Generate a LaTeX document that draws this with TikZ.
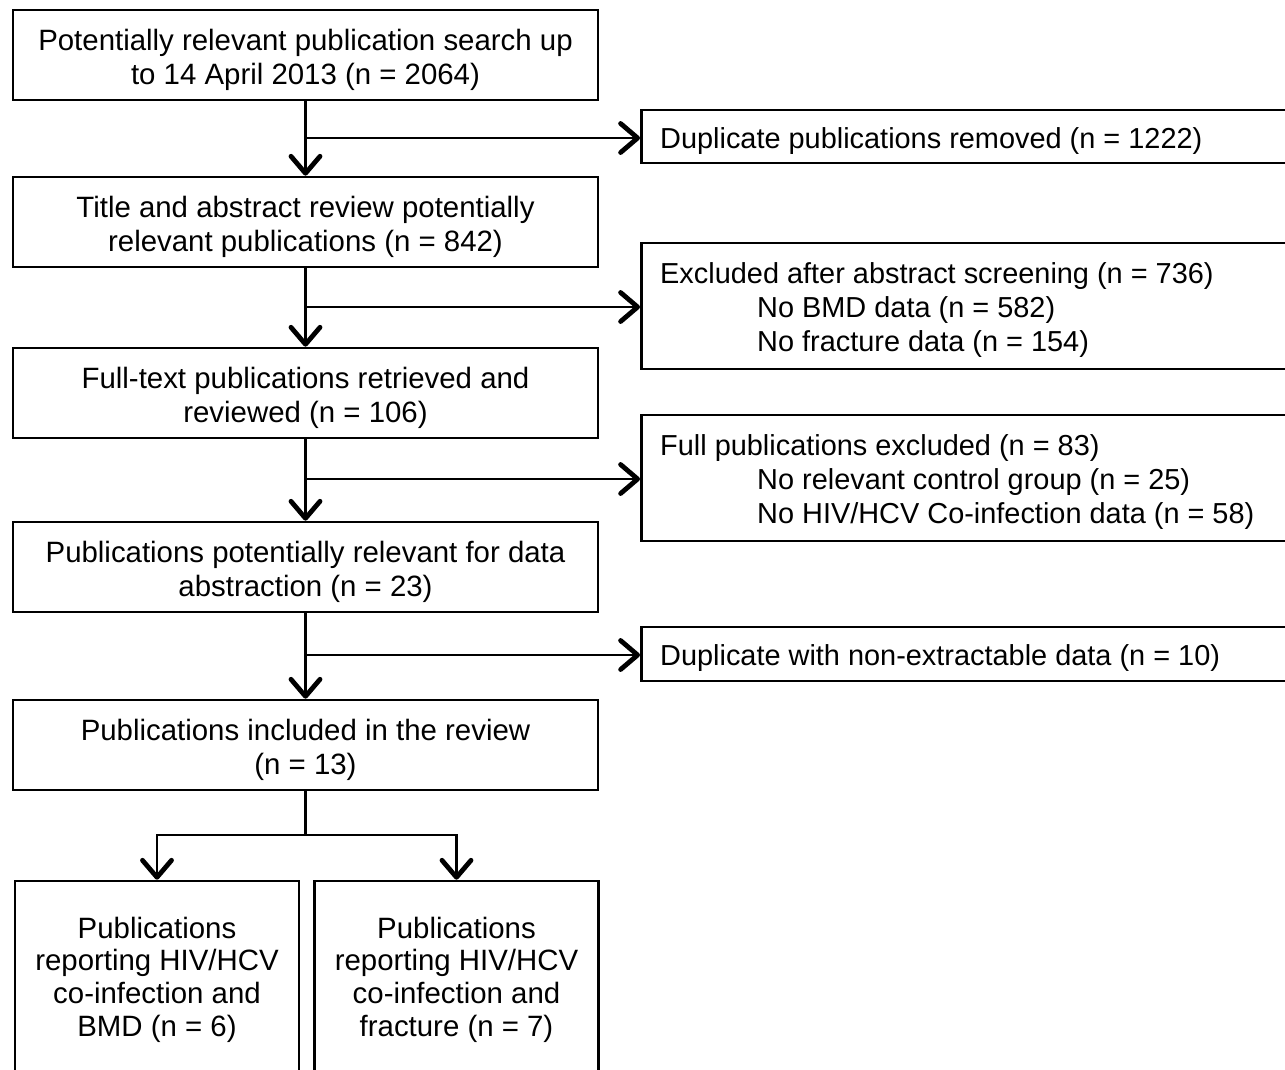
\documentclass[tikz,border=0pt]{standalone}
\usepackage{fontspec}
\setmainfont{Liberation Sans}
\usetikzlibrary{arrows.meta}
\newcommand{\fs}{\fontsize{29.4}{34}\selectfont}
\newcommand{\fsb}{\fontsize{29.4}{32.7}\selectfont}
\newcommand{\fsr}{\fontsize{28.9}{34}\selectfont}
\tikzset{
  frame/.style={draw, line width=2.6pt, inner sep=0pt},
  box/.style={frame, minimum width=585pt, minimum height=90pt},
  lowbox/.style={frame, minimum width=284pt, minimum height=192pt},
  sidebox/.style={frame, anchor=west, minimum width=700pt},
  txt/.style={align=center, inner sep=0pt, font=\fs},
  btxt/.style={align=center, inner sep=0pt, font=\fsb},
  stxt/.style={align=left, anchor=west, inner sep=0pt, font=\fsr},
  arr/.style={line width=2.6pt, -{Straight Barb[length=17pt, width=29pt, line width=4.8pt, round]}},
  plain/.style={line width=2.6pt}
}
\begin{document}
\begin{tikzpicture}[x=1pt,y=-1pt]
\useasboundingbox (0,0) rectangle (1285,1069);
\clip (0,0) rectangle (1285,1069);
% main column
\node[box] (b1) at (305.5,55) {};
\node[box] (b2) at (305.5,222) {};
\node[box] (b3) at (305.5,393) {};
\node[box] (b4) at (305.5,567) {};
\node[box] (b5) at (305.5,745) {};
\node[lowbox] (b6) at (157,977) {};
\node[lowbox] (b7) at (456.5,977) {};
\node[txt] (b1t) at ([yshift=-4.5pt]b1.center) {Potentially relevant publication search up\\to 14 April 2013 (n = 2064)};
\node[txt] (b2t) at ([yshift=-4.5pt]b2.center) {Title and abstract review potentially\\relevant publications (n = 842)};
\node[txt] (b3t) at ([yshift=-4.5pt]b3.center) {Full-text publications retrieved and\\reviewed (n = 106)};
\node[txt] (b4t) at ([yshift=-4.5pt]b4.center) {Publications potentially relevant for data\\abstraction (n = 23)};
\node[txt] (b5t) at ([yshift=-4.5pt]b5.center) {Publications included in the review\\(n = 13)};
\node[btxt] (b6t) at ([yshift=-2.5pt]b6.center) {Publications\\reporting HIV/HCV\\co-infection and\\BMD (n = 6)};
\node[btxt] (b7t) at ([yshift=-2.5pt]b7.center) {Publications\\reporting HIV/HCV\\co-infection and\\fracture (n = 7)};
% side column
\node[sidebox, minimum height=53pt] (r1) at (640,136.5) {};
\node[sidebox, minimum height=126pt] (r2) at (640,306) {};
\node[sidebox, minimum height=126pt] (r3) at (640,478) {};
\node[sidebox, minimum height=54pt] (r4) at (640,654) {};
\node[stxt] (r1t) at ([xshift=20pt,yshift=-4.5pt]r1.west) {Duplicate publications removed (n = 1222)};
\node[stxt] (r2t) at ([xshift=20pt,yshift=-4.5pt]r2.west) {Excluded after abstract screening (n = 736)\\\hspace*{97pt}No BMD data (n = 582)\\\hspace*{97pt}No fracture data (n = 154)};
\node[stxt] (r3t) at ([xshift=20pt,yshift=-4.5pt]r3.west) {Full publications excluded (n = 83)\\\hspace*{97pt}No relevant control group (n = 25)\\\hspace*{97pt}No HIV/HCV Co-infection data (n = 58)};
\node[stxt] (r4t) at ([xshift=20pt,yshift=-4.5pt]r4.west) {Duplicate with non-extractable data (n = 10)};
% connectors
\draw[arr] (b1.south) -- (b2.north);
\draw[arr] (b2.south) -- (b3.north);
\draw[arr] (b3.south) -- (b4.north);
\draw[arr] (b4.south) -- (b5.north);
\draw[arr] (b1.south |- 0,138) -- (r1.west |- 0,138);
\draw[arr] (b2.south |- 0,307) -- (r2.west |- 0,307);
\draw[arr] (b3.south |- 0,479) -- (r3.west |- 0,479);
\draw[arr] (b4.south |- 0,655) -- (r4.west |- 0,655);
\coordinate (sp) at (305.5,835);
\draw[plain] (b5.south) -- (sp);
\draw[arr] (sp) -| (b6.north);
\draw[arr] (sp) -| (b7.north);
\end{tikzpicture}
\end{document}
